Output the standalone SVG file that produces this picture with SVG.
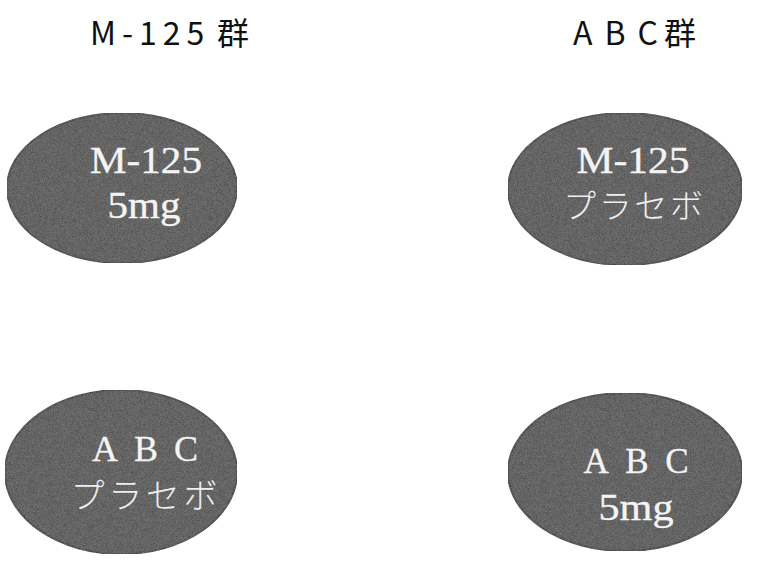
<svg xmlns="http://www.w3.org/2000/svg" width="760" height="565" viewBox="0 0 760 565">
<defs>
<filter id="grain" x="0" y="0" width="100%" height="100%">
<feTurbulence type="fractalNoise" baseFrequency="1.5" numOctaves="1" seed="3" result="n"/>
<feColorMatrix in="n" type="matrix" values="0 0 0 0 0.6  0 0 0 0 0.6  0 0 0 0 0.6  0 0 0 0.3 0" result="g"/>
<feComposite in="g" in2="SourceGraphic" operator="in" result="gc"/>
<feMerge><feMergeNode in="SourceGraphic"/><feMergeNode in="gc"/></feMerge>
</filter>
</defs>
<style>
.title{font-family:"Noto Sans CJK JP","Liberation Sans",sans-serif;font-size:32px;fill:#111}
.pill{fill:#3e3e3e;stroke:#1e1e1e;stroke-width:2;filter:url(#grain)}
.lbl{font-family:"Liberation Serif","Noto Sans CJK JP",serif;fill:#f4f4f4;stroke:#f4f4f4;stroke-width:0.35;text-anchor:middle}
.kana{font-family:"Noto Sans CJK JP",serif;font-weight:300;fill:#eeeeee;text-anchor:middle}
</style>
<rect width="760" height="565" fill="#fff"/>
<text class="title" x="90" y="45"><tspan letter-spacing="6">M-12</tspan>5<tspan x="217">群</tspan></text>
<text class="title" x="573" y="45"><tspan letter-spacing="12">AB</tspan>C<tspan x="664">群</tspan></text>
<g id="m125-5mg">
<ellipse class="pill" cx="122" cy="188" rx="115" ry="75"/>
<text class="lbl" x="146" y="173" font-size="38" textLength="112" lengthAdjust="spacingAndGlyphs">M-125</text>
<text class="lbl" x="144" y="218" font-size="38" textLength="73" lengthAdjust="spacingAndGlyphs">5mg</text>
</g>
<g id="m125-placebo">
<ellipse class="pill" cx="625" cy="189" rx="117" ry="76"/>
<text class="lbl" x="633" y="173" font-size="38" textLength="113" lengthAdjust="spacingAndGlyphs">M-125</text>
<text class="kana" x="633" y="218" font-size="33" textLength="140">プラセボ</text>
</g>
<g id="abc-placebo">
<ellipse class="pill" cx="121" cy="472" rx="116" ry="82"/>
<text class="lbl" x="145" y="461" font-size="36" textLength="106">ABC</text>
<text class="kana" x="144" y="508" font-size="34" textLength="147">プラセボ</text>
</g>
<g id="abc-5mg">
<ellipse class="pill" cx="625" cy="472" rx="117" ry="79"/>
<text class="lbl" x="636" y="473" font-size="35" textLength="105">ABC</text>
<text class="lbl" x="636" y="520" font-size="38" textLength="75" lengthAdjust="spacingAndGlyphs">5mg</text>
</g>
<g id="connectors"/>
</svg>
